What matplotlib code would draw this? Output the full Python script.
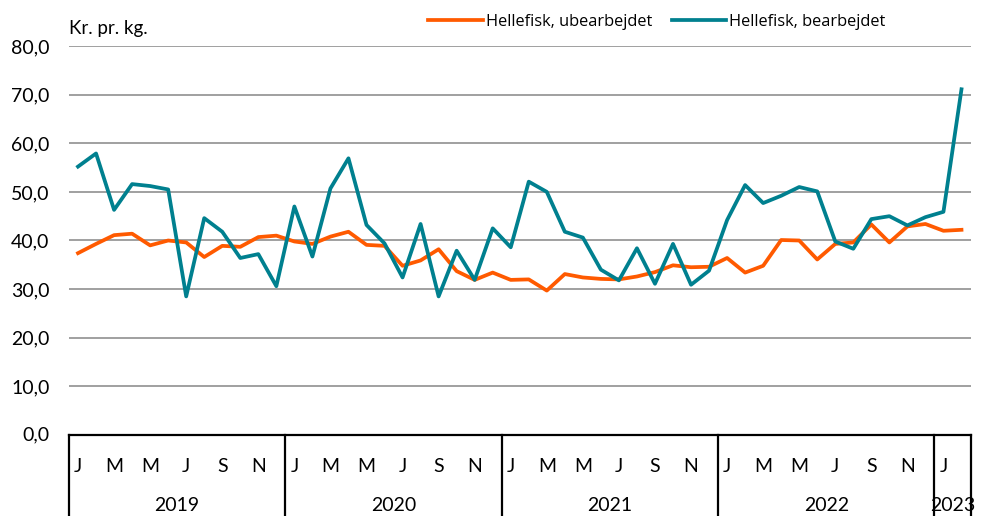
import numpy as np
import matplotlib.pyplot as plt
from matplotlib.transforms import blended_transform_factory

# Monthly prices, Jan 2019 - Feb 2023 (kr. pr. kg.)
ubearbejdet = [37.4, 39.3, 41.1, 41.4, 39.0, 40.0, 39.6, 36.6, 38.9, 38.7, 40.7, 41.0,
               39.8, 39.3, 40.8, 41.8, 39.1, 38.9, 34.8, 35.9, 38.2, 33.7, 31.9, 33.4,
               31.9, 32.0, 29.7, 33.1, 32.4, 32.1, 32.0, 32.6, 33.5, 34.9, 34.5, 34.6,
               36.4, 33.4, 34.8, 40.1, 40.0, 36.1, 39.3, 39.6, 43.3, 39.6, 42.9, 43.4,
               42.0, 42.2]
bearbejdet = [55.2, 57.9, 46.3, 51.6, 51.2, 50.5, 28.5, 44.6, 41.8, 36.4, 37.2, 30.6,
              47.0, 36.7, 50.7, 56.9, 43.2, 39.4, 32.4, 43.4, 28.5, 37.9, 31.9, 42.5,
              38.6, 52.1, 50.0, 41.8, 40.6, 34.0, 31.8, 38.4, 31.1, 39.3, 30.9, 33.8,
              44.2, 51.4, 47.7, 49.2, 51.0, 50.1, 39.8, 38.3, 44.4, 45.0, 43.1, 44.8,
              45.9, 71.1]
month_labels = ['J', 'M', 'M', 'J', 'S', 'N']
years = ['2019', '2020', '2021', '2022', '2023']
months_in_year = [12, 12, 12, 12, 2]

ORANGE = '#FF5A00'
TEAL = '#00808F'
FONT = 'Lato'
FS = 14

fig = plt.figure(figsize=(9.86, 5.16), dpi=100)
ax = fig.add_axes([69 / 986, 81 / 516, 901.5 / 986, 389 / 516])

n = len(ubearbejdet)
x = np.arange(n)
ax.plot(x, ubearbejdet, color=ORANGE, linewidth=2.7, label='Hellefisk, ubearbejdet',
        solid_joinstyle='round', zorder=3)
ax.plot(x, bearbejdet, color=TEAL, linewidth=2.7, label='Hellefisk, bearbejdet',
        solid_joinstyle='round', zorder=4)

ax.set_xlim(-0.5, n - 0.5)
ax.set_ylim(0, 80)
ax.set_yticks(np.arange(10, 81, 10))
ax.set_yticklabels([f'{v:.1f}'.replace('.', ',') for v in range(10, 81, 10)],
                   fontfamily=FONT, fontsize=FS)
ax.tick_params(axis='y', length=0, pad=14)
ax.set_xticks([])
ax.grid(axis='y', color='#a0a0a0', linewidth=1.4)
ax.set_axisbelow(True)
for s in ['top', 'right', 'left']:
    ax.spines[s].set_visible(False)
ax.spines['bottom'].set_linewidth(1.6)
ax.spines['bottom'].set_color('black')

# 0,0 label sits at the axis line
ax.text(-0.022, 0, '0,0', transform=blended_transform_factory(ax.transAxes, ax.transData),
        ha='right', va='center', fontfamily=FONT, fontsize=FS)
ax.text(-0.5, 83.5, 'Kr. pr. kg.', ha='left', va='center', fontfamily=FONT, fontsize=13.5)

# category table under the axis
trans = blended_transform_factory(ax.transData, ax.transAxes)
start = 0
bounds = [0]
for yr, m in zip(years, months_in_year):
    for k in range(0, m, 2):
        ax.text(start + k, -0.08, month_labels[k // 2], transform=trans, ha='center',
                va='center', fontfamily=FONT, fontsize=FS, clip_on=False)
    ax.text(start + (m - 1) / 2, -0.18, yr, transform=trans, ha='center', va='center',
            fontfamily=FONT, fontsize=FS, clip_on=False)
    start += m
    bounds.append(start)
for b in bounds:
    ax.plot([b - 0.5, b - 0.5], [0, -0.25], transform=trans, color='black',
            linewidth=1.6, clip_on=False)

ax.legend(loc='center', bbox_to_anchor=(657 / 986, 1 - 22 / 516),
          bbox_transform=fig.transFigure, ncol=2, frameon=False,
          handlelength=3.3, handletextpad=0.2, columnspacing=1.2,
          prop={'family': 'Open Sans', 'size': 11.8})

plt.savefig('out.png', dpi=100)
